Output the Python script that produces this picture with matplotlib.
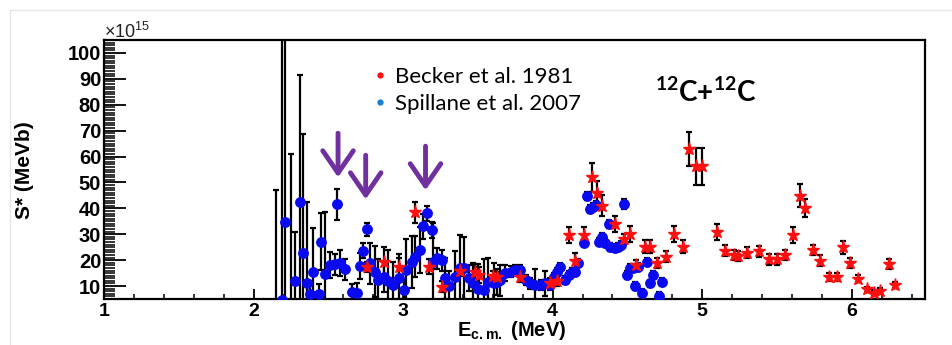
import matplotlib
matplotlib.use('Agg')
import matplotlib.pyplot as plt
from matplotlib.ticker import MultipleLocator
from matplotlib.lines import Line2D

# Spillane et al. 2007 (blue circles), S* in units of 1e15 MeV b
spil_e = [2.15, 2.19, 2.21, 2.25, 2.28, 2.31, 2.33, 2.36, 2.38, 2.40, 2.44, 2.45, 2.48,
          2.51, 2.545, 2.56, 2.58, 2.61, 2.66, 2.69, 2.71, 2.735, 2.76, 2.78, 2.81,
          2.835, 2.87, 2.90, 2.93, 2.97, 3.005, 3.02, 3.06, 3.08, 3.11, 3.13, 3.16,
          3.19, 3.20, 3.23, 3.26, 3.28, 3.31, 3.35, 3.38, 3.41, 3.44, 3.47, 3.50,
          3.54, 3.57, 3.61, 3.63, 3.65, 3.68, 3.72, 3.75, 3.78, 3.82, 3.85, 3.88,
          3.92, 3.95, 3.98, 4.01, 4.03, 4.05, 4.08, 4.11, 4.13, 4.15, 4.17, 4.21,
          4.23, 4.25, 4.27, 4.29, 4.31, 4.33, 4.35, 4.38, 4.385, 4.42, 4.44, 4.46,
          4.48, 4.50, 4.52, 4.54, 4.55, 4.57, 4.60, 4.63, 4.65, 4.67, 4.71, 4.73]
spil_s = [0, 4.8, 34.8, 0, 12.0, 42.4, 22.7, 11.3, 6.9, 15.6, 6.9, 27.2, 14.7,
          18.1, 18.4, 41.6, 18.8, 16.5, 7.8, 7.2, 17.8, 23.7, 32.0, 18.8, 15.6,
          12.3, 13.6, 12.1, 10.4, 13.0, 8.5, 16.2, 19.4, 21.4, 23.9, 33.0, 38.1,
          31.7, 19.4, 20.7, 20.0, 13.0, 10.0, 13.6, 16.9, 16.9, 13.0, 11.0, 8.7,
          8.5, 11.7, 11.0, 11.7, 12.3, 15.0, 15.6, 16.2, 16.2, 12.3, 11.0, 10.4,
          10.4, 11.0, 10.4, 13.6, 15.6, 17.5, 12.3, 14.3, 15.6, 15.6, 18.8, 26.8,
          44.8, 39.7, 40.7, 41.3, 27.2, 29.1, 26.5, 34.0, 25.2, 24.6, 25.2, 25.9,
          41.7, 14.3, 16.9, 16.9, 10.1, 17.5, 7.4, 19.4, 11.0, 14.3, 6.2, 11.7]
spil_err = [47, 110, 80, 61, 19, 49, 46, 31, 5, 17, 4, 11, 24,
            5, 4, 6, 5, 4, 3, 4, 5, 3, 2.5, 8, 10,
            8, 6, 12, 9, 8, 4, 12, 10, 8, 9, 5, 3,
            3, 15, 4, 4, 8, 6, 10, 13, 12, 5, 8, 10,
            12, 9, 8, 5, 6, 3, 2, 2, 2, 2, 2, 6,
            2, 5, 2, 1.5, 1.5, 1.5, 1.5, 1.5, 1.5, 1.5, 1.5, 1.5,
            1.5, 1.5, 1.5, 1.5, 1.5, 1.5, 1.5, 1.5, 1.5, 1.5, 1.5, 1.5,
            2, 1.5, 1.5, 1.5, 1.5, 1.5, 1.5, 1.5, 1.5, 1.5, 1.5, 1.5]

# Becker et al. 1981 (red stars)
beck_e = [2.76, 2.87, 2.97, 3.08, 3.17, 3.26, 3.38, 3.48, 3.51, 3.60, 3.63, 3.78,
          3.98, 4.03, 4.11, 4.15, 4.21, 4.265, 4.30, 4.33, 4.42, 4.48, 4.52, 4.56,
          4.62, 4.65, 4.70, 4.76, 4.81, 4.87, 4.915, 4.96, 5.00, 5.10, 5.15, 5.21,
          5.24, 5.30, 5.38, 5.45, 5.50, 5.555, 5.61, 5.655, 5.69, 5.74, 5.79, 5.845,
          5.90, 5.945, 5.99, 6.04, 6.10, 6.15, 6.19, 6.25, 6.29]
beck_s = [17.3, 19.2, 17.5, 38.5, 17.5, 9.8, 15.8, 15.6, 14.3, 14.0, 13.6, 13.6,
          11.3, 12.0, 29.7, 19.8, 29.7, 52.0, 46.0, 41.0, 34.0, 28.1, 30.0, 18.1,
          25.2, 25.2, 18.8, 21.4, 30.2, 25.2, 63.0, 56.2, 56.2, 30.8, 23.7, 22.0,
          21.6, 22.9, 23.4, 20.3, 20.3, 22.0, 29.7, 44.9, 40.1, 23.9, 19.8, 13.4,
          13.6, 25.0, 19.0, 12.9, 8.7, 7.4, 8.2, 18.4, 10.4]
beck_err = [2, 6, 5, 4, 3, 2, 2, 3, 3, 2, 2, 2,
            2, 2, 3, 3, 3, 5.5, 4.5, 4, 3, 2, 3, 2,
            2.5, 2.5, 2, 2, 3, 2.5, 6.5, 7, 7, 3, 2, 2,
            2, 2, 2, 2, 2, 2, 3, 4.5, 3.5, 2, 2, 1.5,
            1.5, 2.5, 2, 1.5, 1, 1, 1, 2, 1]

# resonance arrows (energy, start, tip)
arrow_e = [2.565, 2.75, 3.15]
arrow_top = [69, 60.5, 64]
arrow_tip = [52, 43.5, 47]

plt.rcParams['mathtext.fontset'] = 'custom'
plt.rcParams['mathtext.rm'] = 'Liberation Sans'
plt.rcParams['mathtext.bf'] = 'Liberation Sans:bold'
plt.rcParams['mathtext.sf'] = 'Lato:bold'

fig = plt.figure(figsize=(9.52, 3.45), dpi=100)
ax = fig.add_axes([104 / 952, 1 - 299 / 345, 821 / 952, 259 / 345])

ax.errorbar(spil_e, spil_s, yerr=spil_err, fmt='none', ecolor='black',
            elinewidth=1.6, capsize=2.5, capthick=1.6, zorder=2)
ax.errorbar(beck_e, beck_s, yerr=beck_err, fmt='none', ecolor='black',
            elinewidth=1.6, capsize=2.5, capthick=1.6, zorder=2)
ax.plot(spil_e, spil_s, 'o', color='#0a0af0', ms=6.8, mec='#0a0af0', zorder=3)
ax.plot(beck_e, beck_s, '*', color='#ff1010', ms=9.5, mec='#ff1010', zorder=4)

for e, top, tip in zip(arrow_e, arrow_top, arrow_tip):
    ax.annotate('', xy=(e, tip), xytext=(e, top),
                arrowprops=dict(arrowstyle='->, head_length=0.8, head_width=0.55',
                                color='#7030a0', lw=3.5, mutation_scale=20,
                                shrinkA=0, shrinkB=0), zorder=5)

ax.set_xlim(1, 6.49)
ax.set_ylim(5, 105)
ax.set_yticks(range(10, 101, 10))
ax.set_xticks([1, 2, 3, 4, 5, 6])
ax.xaxis.set_minor_locator(MultipleLocator(0.2))
ax.yaxis.set_minor_locator(MultipleLocator(1))
ax.tick_params(axis='y', which='major', direction='in', length=16, width=1.3,
               pad=2, labelsize=14.5)
ax.tick_params(axis='y', which='minor', direction='in', length=8, width=1.1)
ax.tick_params(axis='x', which='major', direction='in', length=7, width=1.3,
               pad=3, labelsize=14)
ax.tick_params(axis='x', which='minor', direction='in', length=3.5, width=1.1)
for lab in ax.get_xticklabels() + ax.get_yticklabels():
    lab.set_family('Liberation Sans')
    lab.set_weight('bold')
for sp in ax.spines.values():
    sp.set_linewidth(1.6)

fig.text(25 / 952, 1 - 170 / 345, 'S* (MeVb)', rotation=90, ha='center', va='center',
         fontsize=15, fontweight='bold', family='Liberation Sans')
fig.text(566 / 952, 1 - 331 / 345, r'$\mathbf{E}_{\mathbf{c.m.}}$ (MeV)', ha='right',
         va='center', fontsize=14.5, fontweight='bold', family='Liberation Sans')
fig.text(104 / 952, 1 - 32 / 345, r'$\times$10$^{15}$', ha='left', va='center',
         fontsize=13, color='#222222', family='Liberation Sans')

handles = [Line2D([], [], ls='none', marker='o', ms=3.5, color='#ff1010'),
           Line2D([], [], ls='none', marker='o', ms=3.5, color='#1a7fd0')]
ax.legend(handles, ['Becker et al. 1981', 'Spillane et al. 2007'],
          loc='upper left', bbox_to_anchor=((366 - 104) / 821, (299 - 58) / 259),
          frameon=False, handlelength=0.5, handletextpad=0.4, labelspacing=0.3,
          borderaxespad=0, prop={'family': 'Lato', 'size': 16})

fig.text(655 / 952, 1 - 102 / 345, r'$\mathsf{^{12}C{+}^{12}C}$', ha='left',
         va='baseline', fontsize=20)

# faint slide border
fig.add_artist(Line2D([10 / 952, 1], [1 - 10 / 345, 1 - 10 / 345], color='#e6e6e6', lw=1))
fig.add_artist(Line2D([10 / 952, 10 / 952], [0, 1 - 10 / 345], color='#e6e6e6', lw=1))

fig.savefig('out.png', dpi=100)
